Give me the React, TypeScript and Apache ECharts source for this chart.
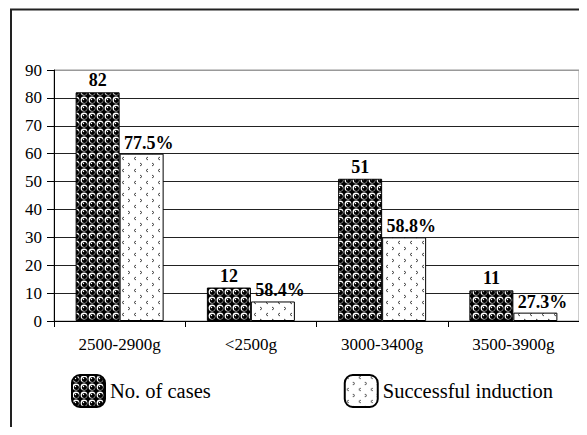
import React, { useEffect, useRef } from "react";
import * as echarts from "echarts";

const categories = ["2500-2900g", "<2500g", "3000-3400g", "3500-3900g"];
const casesValues = [82, 12, 51, 11];
const inductionValues = [60, 7, 30, 3];
const inductionLabels = ["77.5%", "58.4%", "58.8%", "27.3%"];
const yTicks = [0, 10, 20, 30, 40, 50, 60, 70, 80, 90];
const seriesNames = ["No. of cases", "Successful induction"];

function spherePattern(): HTMLCanvasElement {
  const c = document.createElement("canvas");
  c.width = 8;
  c.height = 8;
  const ctx = c.getContext("2d")!;
  ctx.fillStyle = "#000";
  ctx.fillRect(0, 0, 8, 8);
  ctx.fillStyle = "#fff";
  ctx.beginPath();
  ctx.arc(4, 4, 3.4, 0, Math.PI * 2);
  ctx.fill();
  ctx.fillStyle = "#000";
  ctx.beginPath();
  ctx.arc(4.4, 4.4, 2.5, 0, Math.PI * 2);
  ctx.fill();
  ctx.fillStyle = "#fff";
  ctx.beginPath();
  ctx.arc(3.5, 3.5, 0.7, 0, Math.PI * 2);
  ctx.fill();
  return c;
}

function chevronPattern(): HTMLCanvasElement {
  const c = document.createElement("canvas");
  c.width = 12;
  c.height = 12;
  const ctx = c.getContext("2d")!;
  ctx.fillStyle = "#fff";
  ctx.fillRect(0, 0, 12, 12);
  ctx.strokeStyle = "#444";
  ctx.lineWidth = 1;
  ctx.beginPath();
  ctx.moveTo(4, 1);
  ctx.lineTo(2, 2.5);
  ctx.lineTo(4, 4);
  ctx.moveTo(8, 7);
  ctx.lineTo(10, 8.5);
  ctx.lineTo(8, 10);
  ctx.stroke();
  return c;
}

export default function App() {
  const ref = useRef<HTMLDivElement>(null);
  useEffect(() => {
    if (!ref.current) return;
    const chart = echarts.init(ref.current, undefined, { renderer: "svg" });
    const p1 = spherePattern();
    const p2 = chevronPattern();
    const font = "Liberation Serif";
    const splitColors = yTicks.map((v) => (v === 90 ? "#999" : "#222"));
    chart.setOption({
      animation: false,
      backgroundColor: "#fff",
      textStyle: { fontFamily: font },
      graphic: [
        {
          type: "rect",
          shape: { x: 11, y: 9.5, width: 600, height: 460 },
          style: { fill: "none", stroke: "#222", lineWidth: 2 },
          silent: true,
          z: 0,
        },
      ],
      grid: {
        left: 54,
        right: 8,
        top: 70,
        bottom: 114,
        show: true,
        borderColor: "#999",
        borderWidth: 1,
      },
      legend: {
        left: 66,
        top: 369,
        itemWidth: 33,
        itemHeight: 32,
        itemGap: 133,
        data: seriesNames,
        textStyle: { fontSize: 20.5, color: "#000", fontFamily: font },
      },
      xAxis: {
        type: "category",
        data: categories,
        axisLine: { lineStyle: { color: "#000", width: 1 } },
        axisTick: { show: true, length: 6, lineStyle: { color: "#000" } },
        axisLabel: { color: "#000", fontSize: 17, margin: 15, fontFamily: font },
      },
      yAxis: {
        type: "value",
        min: 0,
        max: 90,
        interval: 10,
        axisLine: { show: true, lineStyle: { color: "#000", width: 1 } },
        axisTick: { show: true, length: 7, lineStyle: { color: "#000" } },
        axisLabel: { color: "#000", fontSize: 17, margin: 12, fontFamily: font },
        splitLine: { show: true, lineStyle: { color: splitColors, width: 1 } },
      },
      series: [
        {
          name: seriesNames[0],
          type: "bar",
          data: casesValues,
          barWidth: 44,
          barGap: "0%",
          itemStyle: {
            color: { image: p1, repeat: "repeat", imageWidth: 8, imageHeight: 8 },
            borderColor: "#000",
            borderWidth: 1,
          },
          label: {
            show: true,
            position: "top",
            distance: 3,
            color: "#000",
            fontSize: 18,
            fontWeight: "bold",
            fontFamily: font,
          },
        },
        {
          name: seriesNames[1],
          type: "bar",
          data: inductionValues,
          barWidth: 44,
          barGap: "0%",
          itemStyle: {
            color: { image: p2, repeat: "repeat", imageWidth: 12, imageHeight: 12 },
            borderColor: "#000",
            borderWidth: 1,
          },
          label: {
            show: true,
            position: "top",
            distance: 2,
            offset: [7, 0],
            color: "#000",
            fontSize: 18,
            fontWeight: "bold",
            fontFamily: font,
            formatter: (p: any) => inductionLabels[p.dataIndex],
          },
        },
      ],
    });
    return () => chart.dispose();
  }, []);
  return <div ref={ref} style={{ width: 587, height: 435, margin: -8 }} />;
}
